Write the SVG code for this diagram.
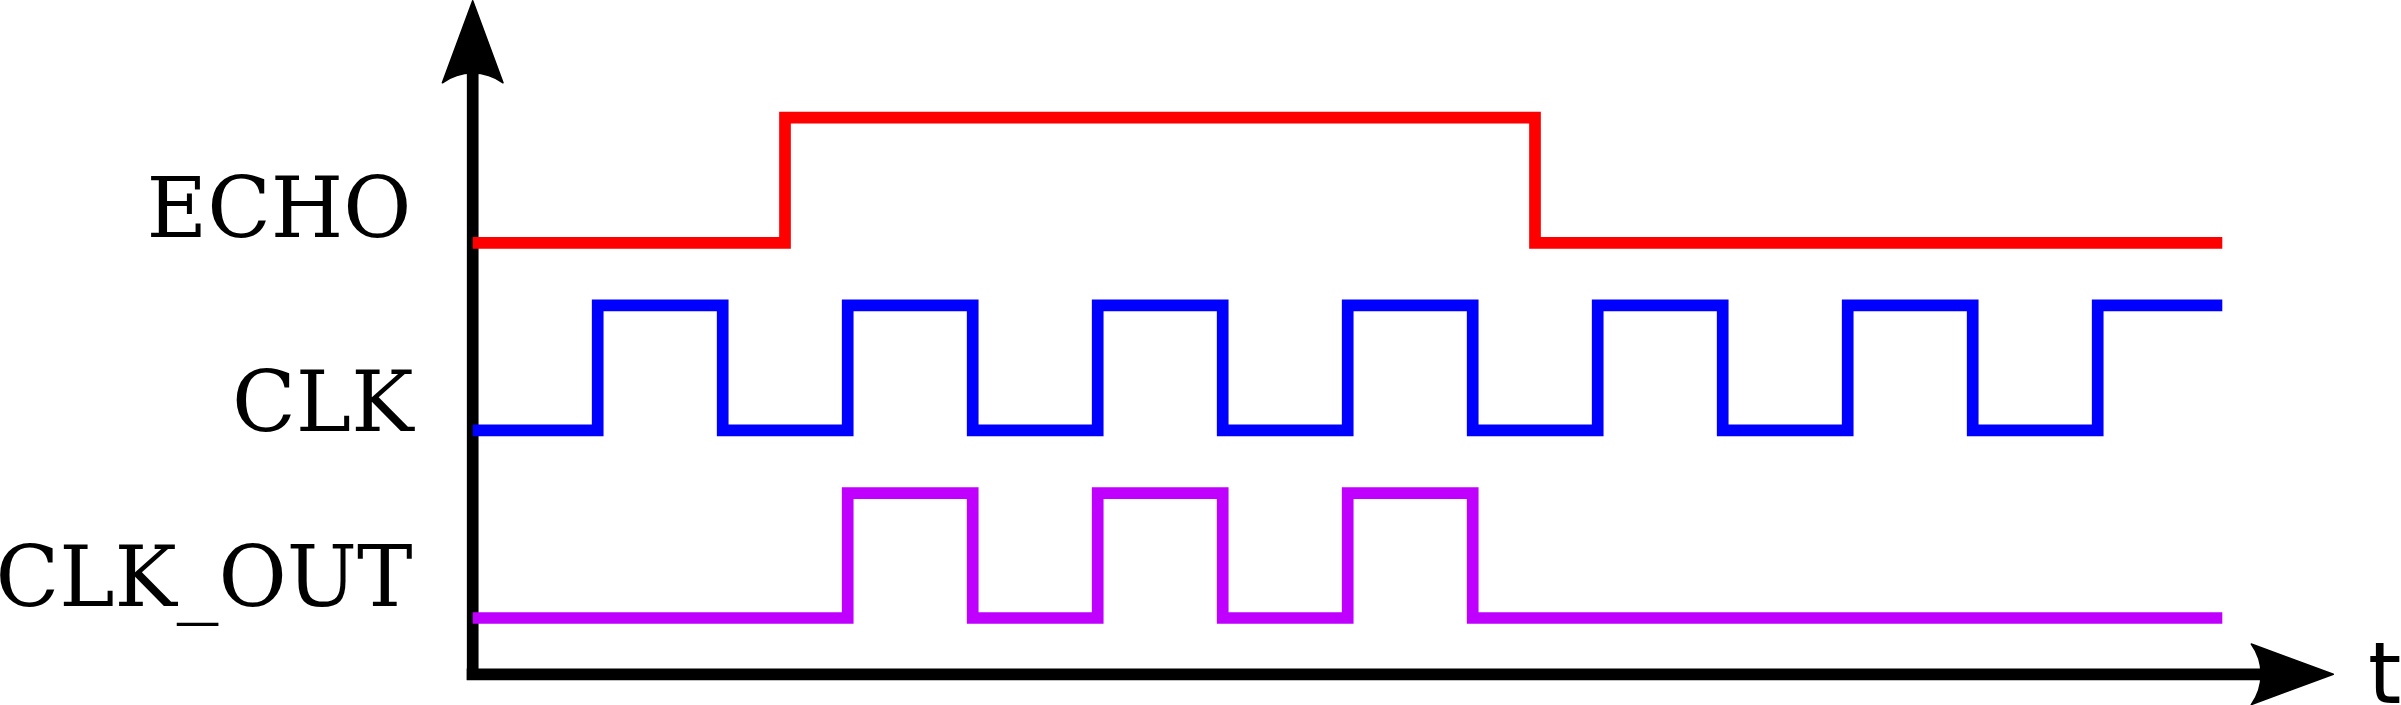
<svg xmlns="http://www.w3.org/2000/svg" xmlns:xlink="http://www.w3.org/1999/xlink" width="2401" height="705" viewBox="0 0 2401 705">
  <style>
    .sig { fill: none; stroke-width: 11.7; stroke-linejoin: miter; stroke-linecap: butt; }
    .axis { fill: none; stroke: #000; stroke-width: 11.7; }
    .lbl { font-family: "DejaVu Serif", serif; font-size: 85px; fill: #000; }
    .t { font-family: "DejaVu Sans", sans-serif; font-size: 85px; fill: #000; }
  </style>
  <defs>
    <path id="arrowhead" d="M0,0 L-82,-30.3 C-68.9,-12.2 -68.9,12.2 -82,30.3 Z" fill="#000" stroke="#000" stroke-width="1.5" stroke-linejoin="round"/>
  </defs>
  <rect width="2401" height="705" fill="#fff"/>
  <g id="axes">
    <line class="axis" x1="472.7" y1="680" x2="472.7" y2="70"/>
    <line class="axis" x1="466.7" y1="674.3" x2="2266" y2="674.3"/>
    <use xlink:href="#arrowhead" transform="translate(472.7,0.8) rotate(-90)"/>
    <use xlink:href="#arrowhead" transform="translate(2333.3,674.3)"/>
    <text class="t" x="2368" y="702.5">t</text>
  </g>
  <g id="echo">
    <path class="sig" stroke="#ff0000" d="M472.7,242.8 H785 V117.7 H1535 V242.8 H2222.3"/>
    <text class="lbl" x="146.5" y="236.7" textLength="265" lengthAdjust="spacingAndGlyphs">ECHO</text>
  </g>
  <g id="clk">
    <path class="sig" stroke="#0000ff" d="M472.7,430.3 H597.7 V305.3 H722.7 V430.3 H847.7 V305.3 H972.7 V430.3 H1097.7 V305.3 H1222.7 V430.3 H1347.7 V305.3 H1472.7 V430.3 H1597.7 V305.3 H1722.7 V430.3 H1847.7 V305.3 H1972.7 V430.3 H2097.7 V305.3 H2222.3"/>
    <text class="lbl" x="232" y="430.7" textLength="181.5" lengthAdjust="spacingAndGlyphs">CLK</text>
  </g>
  <g id="clk_out">
    <path class="sig" stroke="#bf00ff" d="M472.7,618 H847.7 V493.2 H972.7 V618 H1097.7 V493.2 H1222.7 V618 H1347.7 V493.2 H1472.7 V618 H2222.3"/>
    <text class="lbl" x="-4.5" y="605.7" textLength="417" lengthAdjust="spacingAndGlyphs">CLK_OUT</text>
  </g>
</svg>
